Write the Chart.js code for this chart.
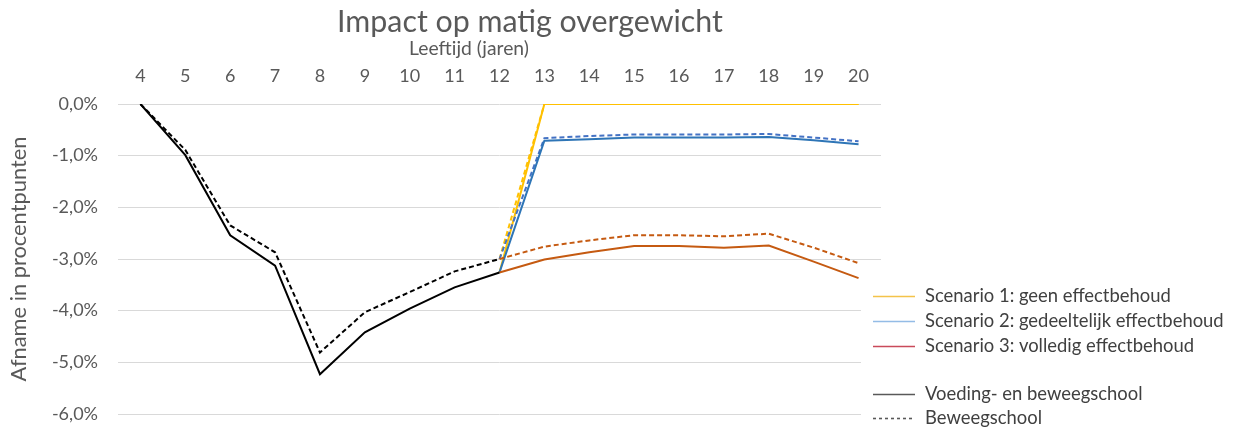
<!DOCTYPE html>
<html>
<head>
<meta charset="utf-8">
<script src="https://cdn.jsdelivr.net/npm/chart.js@4"></script>
<style>
  html, body { margin: 0; padding: 0; background: #ffffff; }
  #wrap { width: 1240px; height: 427px; position: relative; }
</style>
</head>
<body>
<div id="wrap"><canvas id="c" width="1240" height="427"></canvas></div>
<script>
// ---- data ----
const ages = ['4','5','6','7','8','9','10','11','12','13','14','15','16','17','18','19','20'];
const voedingBeweeg = [0, -0.99, -2.54, -3.13, -5.23, -4.42, -3.96, -3.55, -3.26, null, null, null, null, null, null, null, null];
const beweeg        = [0, -0.89, -2.35, -2.87, -4.81, -4.03, -3.64, -3.24, -3.00, null, null, null, null, null, null, null, null];
const s1Voeding = [null, null, null, null, null, null, null, null, -3.26, 0, 0, 0, 0, 0, 0, 0, 0];
const s1Beweeg  = [null, null, null, null, null, null, null, null, -3.00, 0, 0, 0, 0, 0, 0, 0, 0];
const s2Voeding = [null, null, null, null, null, null, null, null, -3.26, -0.71, -0.68, -0.65, -0.65, -0.65, -0.64, -0.70, -0.78];
const s2Beweeg  = [null, null, null, null, null, null, null, null, -3.00, -0.66, -0.62, -0.59, -0.59, -0.59, -0.58, -0.65, -0.72];
const s3Voeding = [null, null, null, null, null, null, null, null, -3.26, -3.01, -2.87, -2.75, -2.75, -2.78, -2.74, -3.05, -3.37];
const s3Beweeg  = [null, null, null, null, null, null, null, null, -3.00, -2.76, -2.64, -2.54, -2.54, -2.56, -2.51, -2.78, -3.08];

const chartTitle = 'Impact op matig overgewicht';
const xTitle = 'Leeftijd (jaren)';
const yTitle = 'Afname in procentpunten';
const legendItems = [
  { label: 'Scenario 1: geen effectbehoud', color: '#F4C34A', dash: [] },
  { label: 'Scenario 2: gedeeltelijk effectbehoud', color: '#94BCE6', dash: [] },
  { label: 'Scenario 3: volledig effectbehoud', color: '#C94A5A', dash: [] },
  null,
  { label: 'Voeding- en beweegschool', color: '#595959', dash: [] },
  { label: 'Beweegschool', color: '#595959', dash: [3, 3] }
];

const FONT = 'Lato, "Open Sans", sans-serif';
const GREY = '#595959';

function ds(data, color, dashed) {
  return {
    data: data, borderColor: color, backgroundColor: color,
    borderWidth: 2, borderDash: dashed ? [5, 3] : [],
    pointRadius: 0, pointHoverRadius: 0, spanGaps: false, tension: 0,
    borderCapStyle: 'butt', borderJoinStyle: 'miter', fill: false
  };
}

function fitSize(ctx, text, targetW) {
  ctx.save();
  ctx.font = '100px ' + FONT;
  const w = ctx.measureText(text).width;
  ctx.restore();
  return 100 * targetW / w;
}

const overlay = {
  id: 'overlay',
  afterDatasetsDraw(chart) {
    const ctx = chart.ctx;
    // legend box (white, covers gridlines like the original)
    ctx.save();
    ctx.fillStyle = '#ffffff';
    ctx.fillRect(861, 283, 379, 144);
    const size = fitSize(ctx, legendItems[1].label, 299);
    ctx.font = size + 'px ' + FONT;
    ctx.textBaseline = 'middle';
    ctx.textAlign = 'left';
    const rowsY = [296, 321, 346, 370, 394, 418];
    legendItems.forEach((it, i) => {
      if (!it) return;
      const y = rowsY[i];
      ctx.beginPath();
      ctx.strokeStyle = it.color;
      ctx.lineWidth = 1.6;
      ctx.setLineDash(it.dash);
      ctx.moveTo(873, y + 0.5);
      ctx.lineTo(915, y + 0.5);
      ctx.stroke();
      ctx.setLineDash([]);
      ctx.fillStyle = '#404040';
      ctx.fillText(it.label, 925, y);
    });
    ctx.restore();
  },
  afterDraw(chart) {
    const ctx = chart.ctx;
    ctx.save();
    ctx.fillStyle = GREY;
    ctx.textAlign = 'center';
    ctx.textBaseline = 'alphabetic';
    let s = fitSize(ctx, chartTitle, 386);
    ctx.font = s + 'px ' + FONT;
    ctx.fillText(chartTitle, 530, 32);
    s = fitSize(ctx, xTitle, 120);
    ctx.font = s + 'px ' + FONT;
    ctx.fillText(xTitle, 469, 55);
    s = fitSize(ctx, yTitle, 245);
    ctx.translate(19, 259);
    ctx.rotate(-Math.PI / 2);
    ctx.font = s + 'px ' + FONT;
    ctx.textBaseline = 'middle';
    ctx.fillText(yTitle, 0, 0);
    ctx.restore();
  }
};

new Chart(document.getElementById('c'), {
  type: 'line',
  data: {
    labels: ages,
    datasets: [
      ds(voedingBeweeg, '#000000', false),
      ds(beweeg, '#000000', true),
      ds(s3Voeding, '#C55A11', false),
      ds(s3Beweeg, '#C55A11', true),
      ds(s2Voeding, '#2E75B6', false),
      ds(s2Beweeg, '#4472C4', true),
      ds(s1Beweeg, '#FFC000', true),
      ds(s1Voeding, '#FFC000', false)
    ]
  },
  options: {
    responsive: false,
    animation: false,
    events: [],
    layout: { padding: { left: 0, right: 359, top: 0, bottom: 13 } },
    plugins: { legend: { display: false }, title: { display: false }, tooltip: { enabled: false } },
    scales: {
      x: {
        type: 'category',
        position: 'top',
        offset: true,
        grid: { display: false, drawTicks: false },
        border: { display: false },
        ticks: { color: GREY, font: { family: FONT, size: 18 }, padding: 17, maxRotation: 0, autoSkip: false },
        afterFit(scale) { scale.height = 104; }
      },
      y: {
        min: -6, max: 0,
        grid: { color: '#D9D9D9', lineWidth: 1, drawTicks: false },
        border: { display: false },
        ticks: {
          stepSize: 1, color: GREY, padding: 20,
          font: { family: FONT, size: 18, lineHeight: 0.1 },
          callback: v => (v.toFixed(1) + '%').replace('.', ',')
        },
        afterFit(scale) { scale.width = 118; scale.paddingTop = 0; scale.paddingBottom = 0; }
      }
    }
  },
  plugins: [overlay]
});
</script>
</body>
</html>
